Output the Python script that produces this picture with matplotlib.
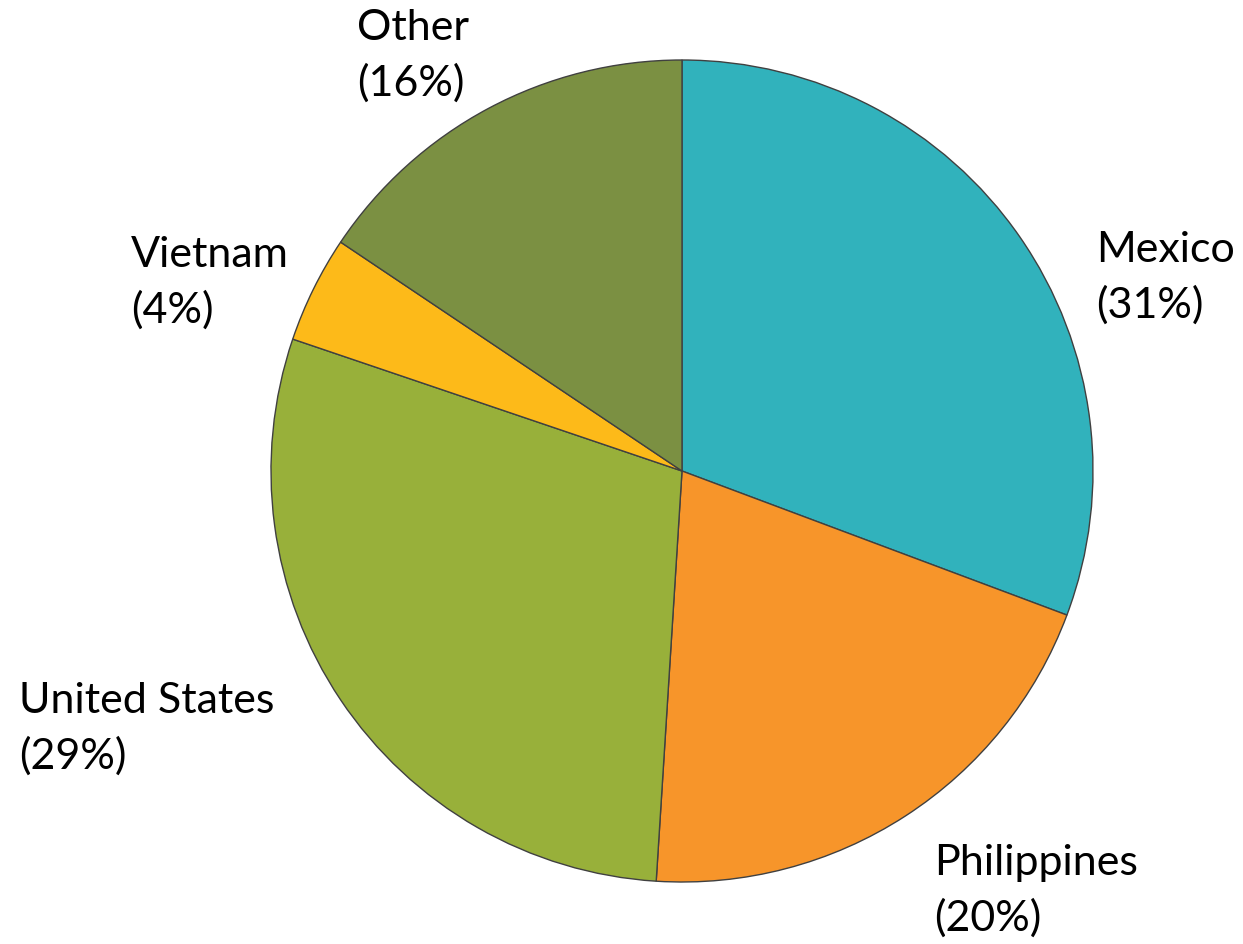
import matplotlib.pyplot as plt

plt.rcParams['font.family'] = ['Lato', 'DejaVu Sans']

countries = ['Mexico', 'Philippines', 'United States', 'Vietnam', 'Other']
shares = [30.7, 20.3, 29.2, 4.2, 15.6]
colors = ['#31B2BC', '#F7952A', '#98B03A', '#FDBA19', '#7B9042']

# label anchor (left, top) in pixels from the top-left corner
label_pos = [(1096, 231), (934, 844), (19, 682), (131, 236), (357, 9)]

W, H = 1243, 945
fig = plt.figure(figsize=(W / 100, H / 100), dpi=100)
ax = fig.add_axes([0, 0, 1, 1])

ax.pie(shares, colors=colors, startangle=90, counterclock=False,
       center=(682, H - 472), radius=411,
       wedgeprops=dict(edgecolor='#404040', linewidth=1.0))

for name, val, (x, y) in zip(countries, shares, label_pos):
    ax.text(x, H - y, f'{name}\n({round(val)}%)', ha='left', va='top',
            fontsize=31, linespacing=1.5, color='black')

ax.set_xlim(0, W)
ax.set_ylim(0, H)
ax.set_aspect('equal')
ax.axis('off')

fig.savefig('out.png', dpi=100)
